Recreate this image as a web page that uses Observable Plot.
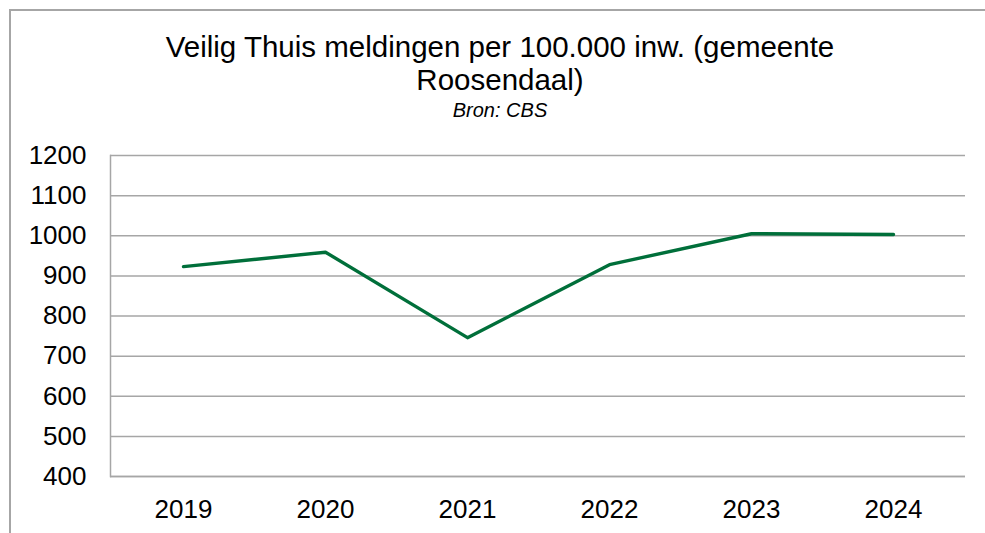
<!DOCTYPE html>
<html>
<head>
<meta charset="utf-8">
<script src="https://cdn.jsdelivr.net/npm/d3@7"></script>
<script src="https://cdn.jsdelivr.net/npm/@observablehq/plot@0.6"></script>
<style>
  html, body { margin: 0; padding: 0; background: #fff; }
  #wrap { position: relative; width: 985px; height: 533px; overflow: hidden; font-family: "Liberation Sans", Arial, sans-serif; }
  #border { position: absolute; left: 9px; top: 9px; width: 990px; height: 540px; border-left: 2px solid #a6a6a6; border-top: 2px solid #a6a6a6; box-sizing: border-box; }
  #title { position: absolute; left: 0; top: 30px; width: 1000px; text-align: center; font-size: 29.5px; line-height: 33px; color: #000; }
  #subtitle { position: absolute; left: 0; top: 99px; width: 1000px; text-align: center; font-size: 20px; font-style: italic; color: #000; }
  #chart { position: absolute; left: 0; top: 0; }
</style>
</head>
<body>
<div id="wrap">
  <div id="chart"></div>
  <div id="border"></div>
  <div id="title">Veilig Thuis meldingen per 100.000 inw. (gemeente<br>Roosendaal)</div>
  <div id="subtitle">Bron: CBS</div>
</div>
<script>
const years = ["2019", "2020", "2021", "2022", "2023", "2024"];
const meldingen = [923, 959, 746, 928, 1005, 1003];
const yTicks = [400, 500, 600, 700, 800, 900, 1000, 1100, 1200];

const data = years.map((y, i) => ({year: y, value: meldingen[i]}));

const chart = Plot.plot({
  width: 985,
  height: 533,
  marginLeft: 110,
  marginRight: 20,
  marginTop: 155,
  marginBottom: 57,
  style: {fontFamily: "'Liberation Sans', Arial, sans-serif", fontSize: "26px", color: "#000", background: "transparent"},
  x: {type: "point", domain: years, padding: 0.5, label: null},
  y: {domain: [400, 1200], label: null},
  marks: [
    Plot.gridY(yTicks, {stroke: "#a6a6a6", strokeOpacity: 1, strokeWidth: 1.5}),
    Plot.frame({anchor: "left", stroke: "#a6a6a6", strokeWidth: 1.5}),
    Plot.ruleY([400], {stroke: "#a6a6a6", strokeWidth: 1.5}),
    Plot.axisY(yTicks, {tickSize: 0, tickPadding: 24, fontSize: 26, tickFormat: d => String(d), label: null}),
    Plot.axisX({tickSize: 0, tickPadding: 23, fontSize: 26, label: null}),
    Plot.line(data, {x: "year", y: "value", stroke: "#006f3a", strokeWidth: 3.4})
  ]
});
document.getElementById("chart").appendChild(chart);
</script>
</body>
</html>
